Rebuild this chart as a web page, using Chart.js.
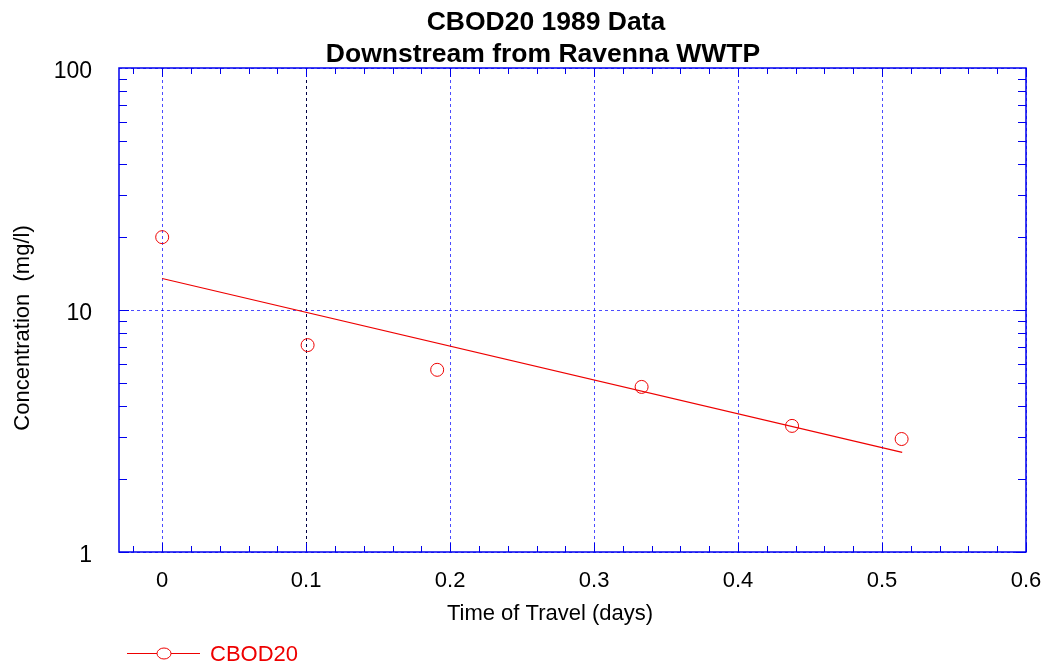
<!DOCTYPE html>
<html lang="en">
<head>
<meta charset="UTF-8">
<title>CBOD20 1989 Data</title>
<script src="https://cdn.jsdelivr.net/npm/chart.js"></script>
<style>
  html, body { margin: 0; padding: 0; background: #fff; }
  #wrap { width: 1050px; height: 671px; }
</style>
</head>
<body>
<div id="wrap"><canvas id="chart" width="1050" height="671"></canvas></div>
<script>
// measured points: time of travel (days) vs CBOD20 (mg/l)
const travelDays = [0, 0.101, 0.191, 0.333, 0.4375, 0.5136];
const cbod20 = [20, 7.16, 5.66, 4.81, 3.32, 2.93];
// fitted decay line, its two end points
const fitDays = [0, 0.514];
const fitCbod = [13.5, 2.58];
// axis ticks
const xTicks = [0, 0.1, 0.2, 0.3, 0.4, 0.5, 0.6];
const yTicks = [1, 10, 100];

const FONT = "'Liberation Sans', Arial, sans-serif";
const RED = '#ee0000';

const decor = {
    id: 'decor',
    afterDraw(chart) {
        const { ctx, chartArea: a, scales: { x, y } } = chart;
        ctx.save();
        ctx.strokeStyle = '#0000ee';
        ctx.lineWidth = 1;
        ctx.beginPath();
        // x minor / major ticks, pointing inward
        for (let i = -1; i <= 30; i++) {
            const px = Math.round(x.getPixelForValue(i * 0.02)) + 0.5;
            const len = i % 5 === 0 ? 9 : 6;
            ctx.moveTo(px, a.bottom); ctx.lineTo(px, a.bottom - len);
            ctx.moveTo(px, a.top); ctx.lineTo(px, a.top + len);
        }
        // y log ticks
        for (let d = 1; d < 100; d *= 10) {
            for (let k = 1; k <= 9; k++) {
                const py = Math.round(y.getPixelForValue(d * k)) + 0.5;
                const len = k === 1 ? 10 : 8;
                ctx.moveTo(a.left, py); ctx.lineTo(a.left + len, py);
                ctx.moveTo(a.right, py); ctx.lineTo(a.right - len, py);
            }
        }
        ctx.stroke();
        // frame
        ctx.lineWidth = 1.5;
        ctx.strokeRect(a.left, a.top, a.right - a.left, a.bottom - a.top);

        // titles
        ctx.fillStyle = '#000';
        ctx.textAlign = 'center';
        ctx.textBaseline = 'alphabetic';
        ctx.font = 'bold 26.5px ' + FONT;
        ctx.fillText('CBOD20 1989 Data', 546, 30);
        ctx.fillText('Downstream from Ravenna WWTP', 543, 62);

        ctx.font = '22px ' + FONT;
        ctx.fillText('Time of Travel (days)', 550, 620);
        ctx.save();
        ctx.translate(29, 328);
        ctx.rotate(-Math.PI / 2);
        ctx.fillText('Concentration  (mg/l)', 0, 0);
        ctx.restore();

        // legend
        ctx.strokeStyle = RED;
        ctx.lineWidth = 1;
        ctx.beginPath();
        ctx.moveTo(127, 653.5); ctx.lineTo(200, 653.5);
        ctx.stroke();
        ctx.fillStyle = '#fff';
        ctx.beginPath();
        ctx.ellipse(164, 653.5, 7, 5.5, 0, 0, Math.PI * 2);
        ctx.fill();
        ctx.stroke();
        ctx.fillStyle = RED;
        ctx.textAlign = 'left';
        ctx.fillText('CBOD20', 210, 661);
        ctx.restore();
    }
};

new Chart(document.getElementById('chart'), {
    type: 'scatter',
    data: {
        datasets: [
            {
                label: 'CBOD20',
                data: travelDays.map((d, i) => ({ x: d, y: cbod20[i] })),
                showLine: false,
                pointStyle: 'circle',
                pointRadius: 6.5,
                pointBorderWidth: 1,
                pointBorderColor: RED,
                pointBackgroundColor: 'rgba(0,0,0,0)',
                borderColor: RED
            },
            {
                label: 'fit',
                data: fitDays.map((d, i) => ({ x: d, y: fitCbod[i] })),
                showLine: true,
                pointRadius: 0,
                borderColor: RED,
                borderWidth: 1.2
            }
        ]
    },
    options: {
        responsive: false,
        animation: false,
        layout: { padding: { top: 68, right: 24, left: 0, bottom: 0 } },
        plugins: {
            legend: { display: false },
            tooltip: { enabled: false }
        },
        scales: {
            x: {
                type: 'linear',
                min: -0.03,
                max: 0.6,
                afterBuildTicks: s => { s.ticks = xTicks.map(v => ({ value: v })); },
                afterFit: s => {
                    s.height = 119;
                    s.paddingLeft = 0;
                    s.paddingRight = 0;
                },
                ticks: {
                    padding: 16,
                    color: '#000',
                    font: { family: FONT, size: 22 },
                    callback: v => String(v)
                },
                grid: {
                    drawTicks: false,
                    lineWidth: 1,
                    color: c => c.tick && c.tick.value === 0.1 ? '#000044' : 'rgba(0,0,255,0.7)'
                },
                border: { display: false, dash: [3, 3] }
            },
            y: {
                type: 'logarithmic',
                min: 1,
                max: 100,
                afterBuildTicks: s => { s.ticks = yTicks.map(v => ({ value: v })); },
                afterFit: s => {
                    s.width = 119;
                    s.paddingTop = 0;
                    s.paddingBottom = 0;
                },
                ticks: {
                    padding: 27,
                    labelOffset: 4,
                    color: '#000',
                    font: { family: FONT, size: 23 },
                    callback: v => String(v)
                },
                grid: {
                    drawTicks: false,
                    lineWidth: 1,
                    color: 'rgba(0,0,255,0.7)'
                },
                border: { display: false, dash: [3, 3] }
            }
        }
    },
    plugins: [decor]
});
</script>
</body>
</html>
